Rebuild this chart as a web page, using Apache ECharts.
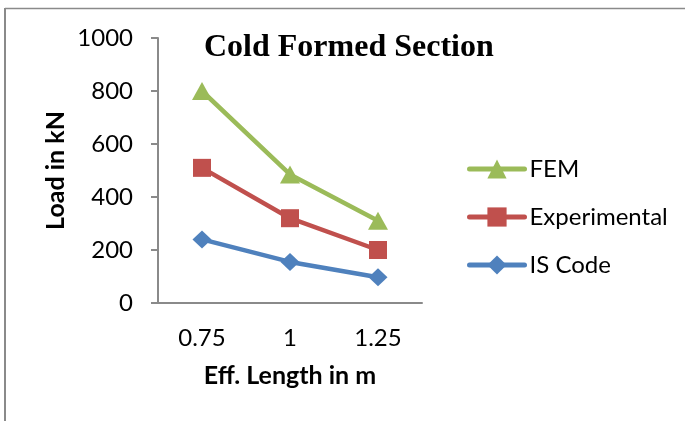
<!DOCTYPE html>
<html>
<head>
<meta charset="utf-8">
<script src="https://cdn.jsdelivr.net/npm/echarts@6/dist/echarts.min.js"></script>
<style>
  html, body { margin: 0; padding: 0; background: #fff; }
  #chart { width: 685px; height: 421px; }
</style>
</head>
<body>
<div id="chart"></div>
<script>
const lengths = ['0.75', '1', '1.25'];
const femLoad = [800, 485, 310];
const experimentalLoad = [510, 320, 200];
const isCodeLoad = [240, 155, 97];
const yTicks = [0, 200, 400, 600, 800, 1000];

const axisGray = '#8a8a8a';
const textFont = 'Lato';

const chart = echarts.init(document.getElementById('chart'));

function lineSeries(name, data, color, symbol, size) {
  return {
    name: name,
    type: 'line',
    data: data,
    symbol: symbol,
    symbolSize: size,
    lineStyle: { color: color, width: 4.5 },
    itemStyle: { color: color },
    animation: false
  };
}

chart.setOption({
  backgroundColor: '#fff',
  title: {
    text: 'Cold Formed Section',
    left: 199,
    top: 27,
    textStyle: {
      fontFamily: 'Liberation Serif',
      fontWeight: 'bold',
      fontSize: 32,
      color: '#000'
    }
  },
  graphic: [
    { type: 'line', shape: { x1: 5, y1: 8.5, x2: 685, y2: 8.5 }, style: { stroke: axisGray, lineWidth: 1.5 } },
    { type: 'line', shape: { x1: 5, y1: 8, x2: 5, y2: 421 }, style: { stroke: axisGray, lineWidth: 2 } }
  ],
  legend: {
    orient: 'vertical',
    left: 462,
    top: 152,
    itemWidth: 55,
    itemHeight: 24,
    itemGap: 24,
    lineStyle: { width: 5, cap: 'round' },
    textStyle: { fontFamily: textFont, fontSize: 24, color: '#000' },
    data: ['FEM', 'Experimental', 'IS Code']
  },
  grid: { left: 158, right: 263, top: 38, bottom: 118 },
  xAxis: {
    type: 'category',
    data: lengths,
    name: 'Eff. Length in m',
    nameLocation: 'middle',
    nameGap: 60,
    nameTextStyle: { fontFamily: textFont, fontWeight: 'bold', fontSize: 25, color: '#000' },
    axisLine: { lineStyle: { color: axisGray, width: 2 } },
    axisTick: { length: 8, lineStyle: { color: axisGray, width: 2 } },
    axisLabel: { fontFamily: textFont, fontSize: 24, color: '#000', margin: 23 }
  },
  yAxis: {
    type: 'value',
    min: yTicks[0],
    max: yTicks[yTicks.length - 1],
    interval: yTicks[1] - yTicks[0],
    name: 'Load in kN',
    nameLocation: 'middle',
    nameGap: 90,
    nameTextStyle: { fontFamily: textFont, fontWeight: 'bold', fontSize: 25, color: '#000' },
    splitLine: { show: false },
    axisLine: { show: true, lineStyle: { color: axisGray, width: 2 } },
    axisTick: { show: true, length: 7, lineStyle: { color: axisGray, width: 2 } },
    axisLabel: { fontFamily: textFont, fontSize: 24, color: '#000', margin: 25, formatter: v => String(v) }
  },
  series: [
    lineSeries('FEM', femLoad, '#9bbb59', 'triangle', [20, 18]),
    lineSeries('Experimental', experimentalLoad, '#c0504d', 'rect', 18),
    lineSeries('IS Code', isCodeLoad, '#4f81bd', 'diamond', [19, 18])
  ]
});
</script>
</body>
</html>
